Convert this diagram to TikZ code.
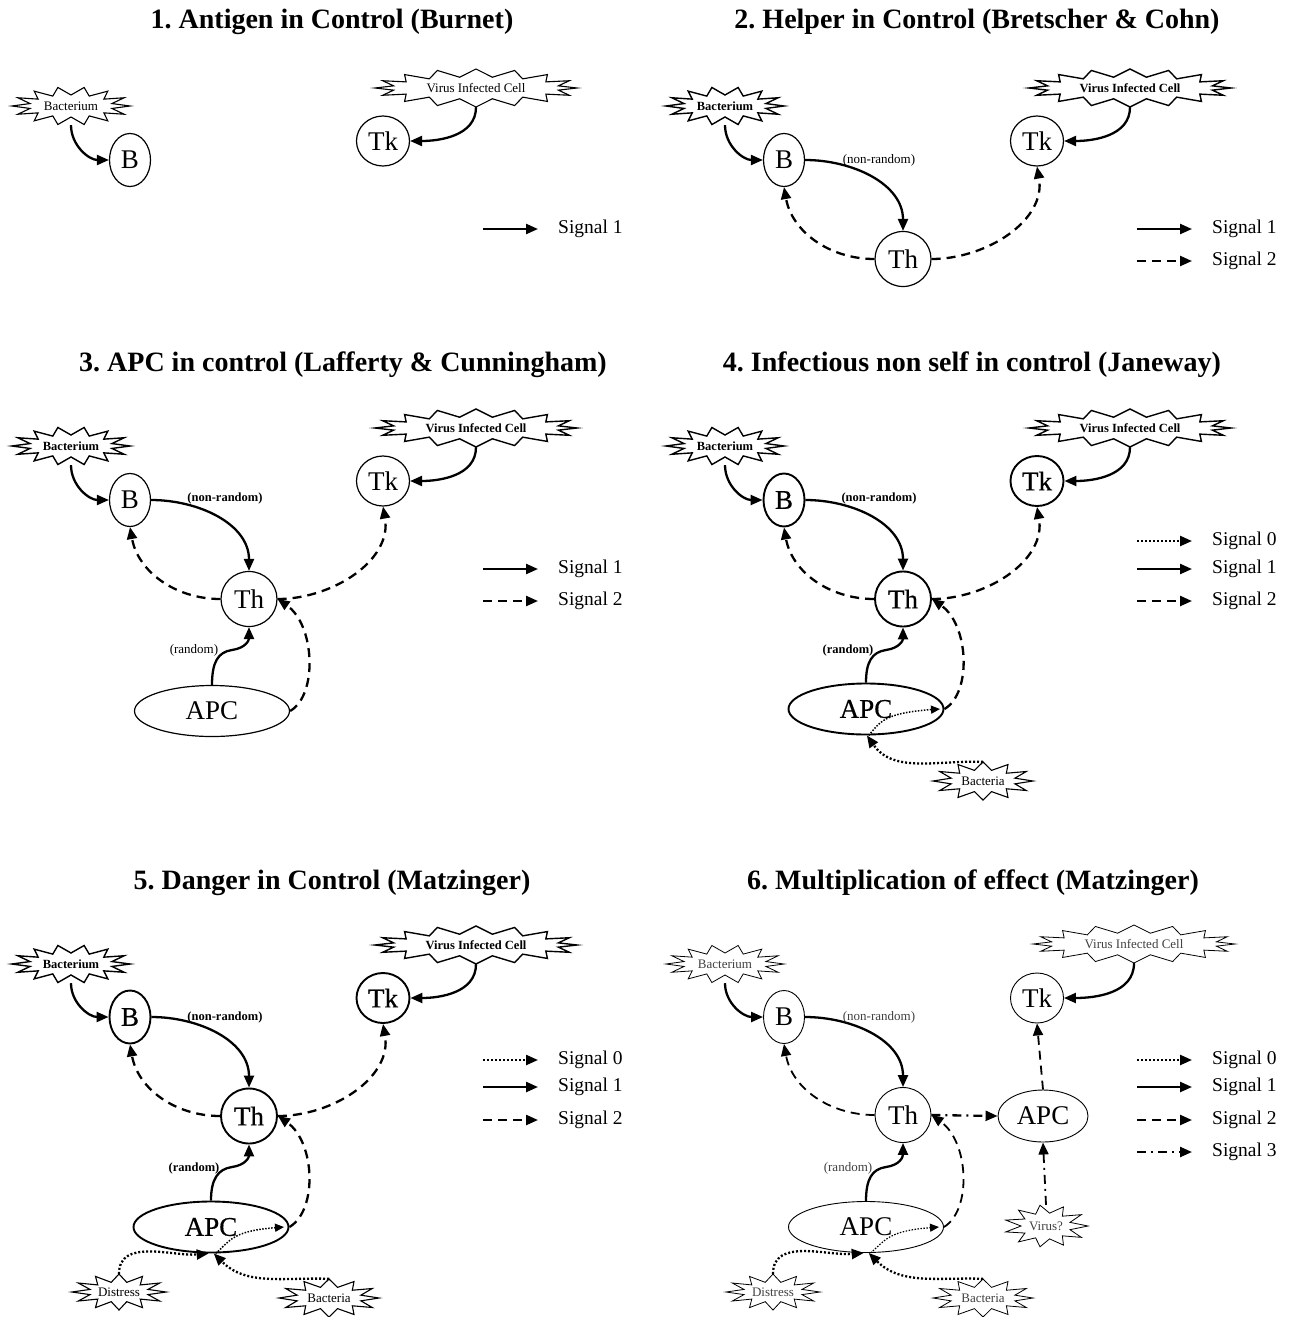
\documentclass[tikz,border=0pt]{standalone}
\usepackage{fontspec}
\setmainfont{Liberation Serif}
\newfontfamily\heavy[FakeBold=0.6]{Liberation Serif}
\usetikzlibrary{shapes.geometric,arrows.meta,calc}
\frenchspacing
\newcommand\starpath[5]{%
 \pgfmathtruncatemacro\burstlast{2*#4-1}%
 \draw[#5] ($(#1.center)+(#2,0)$) \foreach \k in {1,...,\burstlast} { -- ($(#1.center)+({cos(\k*180/#4)*(#2-17*mod(\k,2))},{sin(\k*180/#4)*(#3-8*mod(\k,2))})$) } -- cycle;}
\tikzset{
 cell/.style={ellipse,draw,line width=1.2pt,inner sep=0pt,font=\fontsize{27}{27}\selectfont},
 heavycell/.style={line width=1.9pt,font=\heavy\fontsize{27}{27}\selectfont},
 lightcell/.style={line width=0.9pt},
 bcell/.style={cell,minimum width=41pt,minimum height=53pt},
 thcell/.style={cell,minimum width=56pt,minimum height=55pt},
 tkcell/.style={cell,minimum width=53pt,minimum height=50pt},
 apccell/.style={cell,minimum width=155pt,minimum height=51pt},
 apcsmall/.style={cell,minimum width=90pt,minimum height=52pt},
 burst/.style={rectangle,inner sep=0pt,font=\fontsize{13}{13}\selectfont},
 boldburst/.style={burst,font=\bfseries\fontsize{12.5}{12.5}\selectfont},
 lightburst/.style={burst,text=black!75},
 bline/.style={line width=1.1pt,line join=miter},
 bboldline/.style={line width=1.4pt,line join=miter},
 blightline/.style={line width=0.8pt,line join=miter},
 sig1/.style={line width=2.3pt,-{Triangle[length=12pt,width=10pt]}},
 sig2/.style={sig1,dash pattern=on 9pt off 6pt},
 sig0/.style={sig1,dash pattern=on 2pt off 2pt},
 sig0thin/.style={line width=1.5pt,dash pattern=on 1.5pt off 1.5pt,-{Triangle[length=9pt,width=8pt]}},
 sig3/.style={sig1,dash pattern=on 9pt off 5pt on 2pt off 5pt},
 ttl/.style={font=\bfseries\fontsize{28}{28}\selectfont},
 lbl/.style={inner sep=0pt,font=\fontsize{13}{13}\selectfont},
 blbl/.style={inner sep=0pt,font=\bfseries\fontsize{12.5}{12.5}\selectfont},
 leg/.style={inner sep=0pt,anchor=west,font=\fontsize{19.5}{19.5}\selectfont},
 bacsz/.style={minimum width=118pt,minimum height=38pt},
 vicsz/.style={minimum width=202pt,minimum height=38pt},
 bactsz/.style={minimum width=99pt,minimum height=38pt},
 dissz/.style={minimum width=95pt,minimum height=36pt},
 virsz/.style={minimum width=83pt,minimum height=42pt},
}
\begin{document}
\begin{tikzpicture}[x=1pt,y=1pt]
\useasboundingbox (0,0) rectangle (1292,-1317);
% titles
\node[ttl] (title1) at (332,-22) {1. Antigen in Control (Burnet)};
\node[ttl] (title2) at (977,-22) {2. Helper in Control (Bretscher \& Cohn)};
\node[ttl] (title3) at (343,-365) {3. APC in control (Lafferty \& Cunningham)};
\node[ttl] (title4) at (972,-365) {4. Infectious non self in control (Janeway)};
\node[ttl] (title5) at (332,-883) {5. Danger in Control (Matzinger)};
\node[ttl] (title6) at (973,-883) {6. Multiplication of effect (Matzinger)};

% ---------- panel 1
\begin{scope}[shift={(0,340)}]
 \node[burst,bacsz] (bac1) at (71,-446) {Bacterium};
 \starpath{bac1}{59}{19}{14}{bline}
 \node[bcell] (b1) at (130,-500) {B};
 \node[burst,vicsz] (vic1) at (476,-428) {Virus Infected Cell};
 \starpath{vic1}{101}{19}{16}{bline}
 \node[tkcell] (tk1) at (383,-481) {Tk};
 \draw[sig1] (bac1.south) to[out=-90,in=180] (b1.west);
 \draw[sig1] (vic1.south) to[out=-90,in=0] (tk1.east);
 \coordinate (l1a) at (483,-569); \coordinate (l1b) at (538,-569);
 \draw[sig1] (l1a) -- (l1b);
 \node[leg] (t1) at (558,-569) {Signal 1};
\end{scope}

% ---------- panel 2
\begin{scope}[shift={(654,340)}]
 \node[boldburst,bacsz] (bac2) at (71,-446) {Bacterium};
 \starpath{bac2}{59}{19}{14}{bboldline}
 \node[bcell] (b2) at (130,-500) {B};
 \node[boldburst,vicsz] (vic2) at (476,-428) {Virus Infected Cell};
 \starpath{vic2}{101}{19}{16}{bboldline}
 \node[tkcell] (tk2) at (383,-481) {Tk};
 \node[thcell] (th2) at (249,-599) {Th};
 \draw[sig1] (bac2.south) to[out=-90,in=180] (b2.west);
 \draw[sig1] (vic2.south) to[out=-90,in=0] (tk2.east);
 \draw[sig1] (b2.east) to[out=0,in=90] (th2.north);
 \draw[sig2] (th2.west) to[out=180,in=-80] (b2.south);
 \draw[sig2] (th2.east) to[out=0,in=-80] (tk2.south);
 \node[lbl] (nr2) at (225,-500) {(non-random)};
 \coordinate (l2a) at (483,-569); \coordinate (l2b) at (538,-569);
 \coordinate (l2c) at (483,-601); \coordinate (l2d) at (538,-601);
 \draw[sig1] (l2a) -- (l2b);
 \draw[sig2] (l2c) -- (l2d);
 \node[leg] (t2a) at (558,-569) {Signal 1};
 \node[leg] (t2b) at (558,-601) {Signal 2};
\end{scope}

% ---------- panel 3
\begin{scope}
 \node[boldburst,bacsz] (bac3) at (71,-446) {Bacterium};
 \starpath{bac3}{59}{19}{14}{bboldline}
 \node[bcell] (b3) at (130,-500) {B};
 \node[boldburst,vicsz] (vic3) at (476,-428) {Virus Infected Cell};
 \starpath{vic3}{101}{19}{16}{bboldline}
 \node[tkcell] (tk3) at (383,-481) {Tk};
 \node[thcell] (th3) at (249,-599) {Th};
 \node[apccell] (apc3) at (212,-711) {APC};
 \draw[sig1] (bac3.south) to[out=-90,in=180] (b3.west);
 \draw[sig1] (vic3.south) to[out=-90,in=0] (tk3.east);
 \draw[sig1] (b3.east) to[out=0,in=90] (th3.north);
 \draw[sig2] (th3.west) to[out=180,in=-80] (b3.south);
 \draw[sig2] (th3.east) to[out=0,in=-80] (tk3.south);
 \draw[sig1] (apc3.north) .. controls (212,-662) and (218,-652) .. (232,-650) .. controls (246,-648) and (249,-640) .. (th3.south);
 \draw[sig2] (apc3.east) .. controls (318,-695) and (315,-625) .. (th3.east);
 \node[blbl] (nr3) at (225,-498) {(non-random)};
 \node[lbl] (r3) at (194,-650) {(random)};
 \coordinate (l3a) at (483,-569); \coordinate (l3b) at (538,-569);
 \coordinate (l3c) at (483,-601); \coordinate (l3d) at (538,-601);
 \draw[sig1] (l3a) -- (l3b);
 \draw[sig2] (l3c) -- (l3d);
 \node[leg] (t3a) at (558,-569) {Signal 1};
 \node[leg] (t3b) at (558,-601) {Signal 2};
\end{scope}

% ---------- panel 4
\begin{scope}[shift={(654,0)}]
 \node[boldburst,bacsz] (bac4) at (71,-446) {Bacterium};
 \starpath{bac4}{59}{19}{14}{bboldline}
 \node[bcell,heavycell] (b4) at (130,-500) {B};
 \node[boldburst,vicsz] (vic4) at (476,-428) {Virus Infected Cell};
 \starpath{vic4}{101}{19}{16}{bboldline}
 \node[tkcell,heavycell] (tk4) at (383,-481) {Tk};
 \node[thcell,heavycell] (th4) at (249,-599) {Th};
 \node[apccell,heavycell] (apc4) at (212,-709) {APC};
 \node[burst,bactsz] (bact4) at (329,-781) {Bacteria};
 \starpath{bact4}{50}{19}{12}{bline}
 \draw[sig1] (bac4.south) to[out=-90,in=180] (b4.west);
 \draw[sig1] (vic4.south) to[out=-90,in=0] (tk4.east);
 \draw[sig1] (b4.east) to[out=0,in=90] (th4.north);
 \draw[sig2] (th4.west) to[out=180,in=-80] (b4.south);
 \draw[sig2] (th4.east) to[out=0,in=-80] (tk4.south);
 \draw[sig1] (apc4.north) .. controls (212,-662) and (218,-652) .. (232,-650) .. controls (246,-648) and (249,-640) .. (th4.south);
 \draw[sig2] (apc4.east) .. controls (318,-693) and (315,-625) .. (th4.east);
 \draw[sig0] (bact4.north) to[out=178,in=-55] (apc4.-88);
 \coordinate (in4) at (286,-709);
 \draw[sig0thin] (apc4.-84) .. controls (226,-722) and (230,-713) .. (in4);
 \node[blbl] (nr4) at (225,-498) {(non-random)};
 \node[blbl] (r4) at (194,-650) {(random)};
 \coordinate (l4a) at (483,-541); \coordinate (l4b) at (538,-541);
 \coordinate (l4c) at (483,-569); \coordinate (l4d) at (538,-569);
 \coordinate (l4e) at (483,-601); \coordinate (l4f) at (538,-601);
 \draw[sig0] (l4a) -- (l4b);
 \draw[sig1] (l4c) -- (l4d);
 \draw[sig2] (l4e) -- (l4f);
 \node[leg] (t4a) at (558,-541) {Signal 0};
 \node[leg] (t4b) at (558,-569) {Signal 1};
 \node[leg] (t4c) at (558,-601) {Signal 2};
\end{scope}

% ---------- panel 5
\begin{scope}[shift={(0,-517)}]
 \node[boldburst,bacsz] (bac5) at (71,-447) {Bacterium};
 \starpath{bac5}{59}{19}{14}{bboldline}
 \node[bcell,heavycell] (b5) at (130,-500) {B};
 \node[boldburst,vicsz] (vic5) at (476,-428) {Virus Infected Cell};
 \starpath{vic5}{101}{19}{16}{bboldline}
 \node[tkcell,heavycell] (tk5) at (383,-481) {Tk};
 \node[thcell,heavycell] (th5) at (249,-599) {Th};
 \node[apccell,heavycell] (apc5) at (211,-710) {APC};
 \node[burst,dissz] (dis5) at (119,-775) {Distress};
 \starpath{dis5}{47}{18}{12}{bline}
 \node[burst,bactsz] (bact5) at (329,-781) {Bacteria};
 \starpath{bact5}{50}{19}{12}{bline}
 \draw[sig1] (bac5.south) to[out=-90,in=180] (b5.west);
 \draw[sig1] (vic5.south) to[out=-90,in=0] (tk5.east);
 \draw[sig1] (b5.east) to[out=0,in=90] (th5.north);
 \draw[sig2] (th5.west) to[out=180,in=-80] (b5.south);
 \draw[sig2] (th5.east) to[out=0,in=-80] (tk5.south);
 \draw[sig1] (apc5.north) .. controls (211,-662) and (218,-652) .. (232,-650) .. controls (246,-648) and (249,-640) .. (th5.south);
 \draw[sig2] (apc5.east) .. controls (318,-693) and (315,-625) .. (th5.east);
 \draw[sig0] (dis5.north) to[out=90,in=185] (apc5.-95);
 \draw[sig0] (bact5.north) to[out=178,in=-45] (apc5.-84);
 \coordinate (in5) at (284,-710);
 \draw[sig0thin] (apc5.-80) .. controls (230,-724) and (232,-714) .. (in5);
 \node[blbl] (nr5) at (225,-500) {(non-random)};
 \node[blbl] (r5) at (194,-651) {(random)};
 \coordinate (l5a) at (483,-543); \coordinate (l5b) at (538,-543);
 \coordinate (l5c) at (483,-570); \coordinate (l5d) at (538,-570);
 \coordinate (l5e) at (483,-603); \coordinate (l5f) at (538,-603);
 \draw[sig0] (l5a) -- (l5b);
 \draw[sig1] (l5c) -- (l5d);
 \draw[sig2] (l5e) -- (l5f);
 \node[leg] (t5a) at (558,-543) {Signal 0};
 \node[leg] (t5b) at (558,-570) {Signal 1};
 \node[leg] (t5c) at (558,-603) {Signal 2};
\end{scope}

% ---------- panel 6
\begin{scope}[shift={(654,-517)}]
 \node[lightburst,bacsz] (bac6) at (71,-447) {Bacterium};
 \starpath{bac6}{59}{19}{14}{blightline}
 \node[bcell,lightcell] (b6) at (130,-500) {B};
 \node[lightburst,vicsz] (vic6) at (480,-427) {Virus Infected Cell};
 \starpath{vic6}{101}{19}{16}{blightline}
 \node[tkcell,lightcell] (tk6) at (383,-481) {Tk};
 \node[thcell,lightcell] (th6) at (249,-598) {Th};
 \node[apccell,lightcell] (apc6) at (212,-710) {APC};
 \node[apcsmall,lightcell] (apcb6) at (389,-599) {APC};
 \node[lightburst,dissz] (dis6) at (119,-775) {Distress};
 \starpath{dis6}{47}{18}{12}{blightline}
 \node[lightburst,bactsz] (bact6) at (329,-781) {Bacteria};
 \starpath{bact6}{50}{19}{12}{blightline}
 \node[lightburst,virsz] (vir6) at (392,-709) {Virus?};
 \starpath{vir6}{42}{21}{11}{blightline}
 \draw[sig1] (bac6.south) to[out=-90,in=180] (b6.west);
 \draw[sig1] (vic6.south) to[out=-90,in=0] (tk6.east);
 \draw[sig1] (b6.east) to[out=0,in=90] (th6.north);
 \draw[sig2,line width=1.8pt] (th6.west) to[out=180,in=-80] (b6.south);
 \draw[sig1] (apc6.north) .. controls (212,-662) and (218,-652) .. (232,-650) .. controls (246,-648) and (249,-640) .. (th6.south);
 \draw[sig2,line width=1.8pt] (apc6.east) .. controls (318,-693) and (315,-625) .. (th6.east);
 \draw[sig3] (th6.east) -- (apcb6.west);
 \draw[sig2,line width=1.8pt] (apcb6.north) -- (tk6.south);
 \draw[sig3,line width=1.8pt] (vir6.north) -- (apcb6.south);
 \draw[sig0] (dis6.north) to[out=90,in=185] (apc6.-95);
 \draw[sig0] (bact6.north) to[out=178,in=-45] (apc6.-84);
 \coordinate (in6) at (285,-710);
 \draw[sig0thin,line width=1.2pt] (apc6.-80) .. controls (231,-724) and (233,-714) .. (in6);
 \node[lbl,text=black!75] (nr6) at (225,-500) {(non-random)};
 \node[lbl,text=black!75] (r6) at (194,-651) {(random)};
 \coordinate (l6a) at (483,-543); \coordinate (l6b) at (538,-543);
 \coordinate (l6c) at (483,-570); \coordinate (l6d) at (538,-570);
 \coordinate (l6e) at (483,-603); \coordinate (l6f) at (538,-603);
 \coordinate (l6g) at (483,-635); \coordinate (l6h) at (538,-635);
 \draw[sig0] (l6a) -- (l6b);
 \draw[sig1] (l6c) -- (l6d);
 \draw[sig2] (l6e) -- (l6f);
 \draw[sig3] (l6g) -- (l6h);
 \node[leg] (t6a) at (558,-543) {Signal 0};
 \node[leg] (t6b) at (558,-570) {Signal 1};
 \node[leg] (t6c) at (558,-603) {Signal 2};
 \node[leg] (t6d) at (558,-635) {Signal 3};
\end{scope}
\end{tikzpicture}
\end{document}
